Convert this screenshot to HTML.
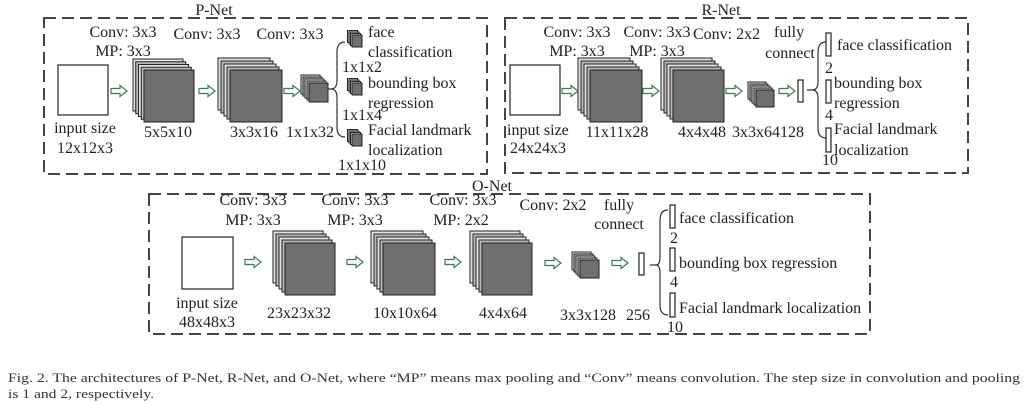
<!DOCTYPE html>
<html><head><meta charset="utf-8"><style>
html,body{margin:0;padding:0;background:#fff;}
svg{display:block;}
text{font-family:"Liberation Serif",serif;font-size:16px;fill:#222;}
.c{text-anchor:middle;}
.cap{font-size:13px;fill:#333;}
.bx{fill:none;stroke:#444;stroke-width:2;stroke-dasharray:12 6;}
.b1{fill:#e2e2e2;stroke:#222;stroke-width:1;}
.b2{fill:#b8b8b8;stroke:#222;stroke-width:1;}
.f{fill:#6f6f6f;stroke:#222;stroke-width:1;}
.w{fill:#fff;stroke:#222;stroke-width:1.2;}
.ar{fill:#fff;stroke:#3f7a50;stroke-width:1.2;}
.br{fill:none;stroke:#333;stroke-width:1.2;}
</style></head><body>
<svg width="1024" height="404" viewBox="0 0 1024 404" xmlns="http://www.w3.org/2000/svg">
<defs>
<path id="arr" d="M0 -2.5 h9 v-3 l7 5.5 l-7 5.5 v-3 h-9 z" class="ar"/>
</defs>
<rect class="bx" x="44" y="18" width="443" height="156"/>
<rect class="bx" x="505" y="18" width="463" height="155"/>
<rect class="bx" x="149" y="194" width="721" height="140"/>
<text class="c" x="214" y="15">P-Net</text>
<text class="c" x="721" y="15">R-Net</text>
<text class="c" x="492" y="191">O-Net</text>

<!-- P-Net -->
<rect class="w" x="58" y="65" width="50" height="50"/>
<text class="c" x="85" y="133">input size</text>
<text class="c" x="85" y="153">12x12x3</text>
<text class="c" x="123" y="37">Conv: 3x3</text>
<text class="c" x="123" y="56">MP: 3x3</text>
<g><rect class="b1" x="133" y="59" width="50" height="52"/><rect class="b2" x="135.75" y="61.75" width="50" height="52"/><rect class="b1" x="138.5" y="64.5" width="50" height="52"/><rect class="b2" x="141.25" y="67.25" width="50" height="52"/><rect class="f" x="144" y="70" width="50" height="52"/></g>
<text class="c" x="168" y="137">5x5x10</text>
<text class="c" x="207" y="39">Conv: 3x3</text>
<g><rect class="b1" x="218" y="58" width="52" height="52"/><rect class="b2" x="221" y="61" width="52" height="52"/><rect class="b1" x="224" y="64" width="52" height="52"/><rect class="b2" x="227" y="67" width="52" height="52"/><rect class="f" x="230" y="70" width="52" height="52"/></g>
<text class="c" x="254" y="137">3x3x16</text>
<text class="c" x="290" y="39">Conv: 3x3</text>
<g><rect class="b1" x="301" y="75" width="19" height="19"/><rect class="b2" x="303" y="77" width="19" height="19"/><rect class="b1" x="305" y="79" width="19" height="19"/><rect class="b2" x="307" y="81" width="19" height="19"/><rect class="f" x="309" y="83" width="19" height="19"/></g>
<text class="c" x="310" y="137">1x1x32</text>
<use href="#arr" x="111" y="91"/><use href="#arr" x="199" y="91"/><use href="#arr" x="284" y="91"/>
<path class="br" d="M328 89 H331 M345 42 Q337 42 337 52 V80 Q337 89 331 89 Q337 89 337 98 V128 Q337 137 345 137"/>
<g><rect class="b1" x="347.5" y="30.5" width="10" height="12"/><rect class="b2" x="349" y="32" width="10" height="12"/><rect class="b1" x="350.5" y="33.5" width="10" height="12"/><rect class="f" x="352" y="35" width="10" height="12"/></g>
<g><rect class="b1" x="347.5" y="78.5" width="10" height="12"/><rect class="b2" x="349" y="80" width="10" height="12"/><rect class="b1" x="350.5" y="81.5" width="10" height="12"/><rect class="f" x="352" y="83" width="10" height="12"/></g>
<g><rect class="b1" x="347.5" y="129.5" width="10" height="12"/><rect class="b2" x="349" y="131" width="10" height="12"/><rect class="b1" x="350.5" y="132.5" width="10" height="12"/><rect class="f" x="352" y="134" width="10" height="12"/></g>
<text x="368" y="37">face</text>
<text x="368" y="57">classification</text>
<text x="342" y="72">1x1x2</text>
<text x="368" y="88">bounding box</text>
<text x="368" y="108">regression</text>
<text x="342" y="120">1x1x4</text>
<text x="368" y="135">Facial landmark</text>
<text x="368" y="155">localization</text>
<text x="338" y="170">1x1x10</text>

<!-- R-Net -->
<rect class="w" x="510" y="65" width="50" height="50"/>
<text x="507" y="135">input size</text>
<text x="510" y="153">24x24x3</text>
<text class="c" x="577" y="37">Conv: 3x3</text>
<text class="c" x="577" y="56">MP: 3x3</text>
<g><rect class="b1" x="578" y="58" width="52" height="52"/><rect class="b2" x="581" y="61" width="52" height="52"/><rect class="b1" x="584" y="64" width="52" height="52"/><rect class="b2" x="587" y="67" width="52" height="52"/><rect class="f" x="590" y="70" width="52" height="52"/></g>
<text class="c" x="617" y="137">11x11x28</text>
<text class="c" x="657" y="37">Conv: 3x3</text>
<text class="c" x="657" y="56">MP: 3x3</text>
<g><rect class="b1" x="661" y="58" width="51" height="52"/><rect class="b2" x="664" y="61" width="51" height="52"/><rect class="b1" x="667" y="64" width="51" height="52"/><rect class="b2" x="670" y="67" width="51" height="52"/><rect class="f" x="673" y="70" width="51" height="52"/></g>
<text x="678" y="137">4x4x48</text>
<text x="732" y="137">3x3x64128</text>
<text x="693" y="39">Conv: 2x2</text>
<g><rect class="b1" x="748" y="82" width="18" height="17"/><rect class="b2" x="750" y="84" width="18" height="17"/><rect class="b1" x="752" y="86" width="18" height="17"/><rect class="b2" x="754" y="88" width="18" height="17"/><rect class="f" x="756" y="90" width="18" height="17"/></g>
<use href="#arr" x="562" y="91"/><use href="#arr" x="643" y="91"/><use href="#arr" x="726" y="91"/><use href="#arr" x="779" y="91"/>
<rect class="w" x="798" y="80" width="5" height="22"/>
<text class="c" x="789" y="37">fully</text>
<text class="c" x="790" y="58">connect</text>
<path class="br" d="M807 90 H812 M826 42 Q818 42 818 52 V82 Q818 90 812 90 Q818 90 818 98 V128 Q818 138 826 138"/>
<rect class="w" x="826" y="33" width="5" height="23"/>
<rect class="w" x="826" y="80" width="5" height="23"/>
<rect class="w" x="826" y="128" width="5" height="24"/>
<text x="837" y="50">face classification</text>
<text x="825" y="73">2</text>
<text x="834" y="88">bounding box</text>
<text x="834" y="108">regression</text>
<text x="825" y="120">4</text>
<text x="834" y="134">Facial landmark</text>
<text x="834" y="155">localization</text>
<text x="822" y="165">10</text>

<!-- O-Net -->
<rect class="w" x="182" y="237" width="51" height="52"/>
<text class="c" x="207" y="308">input size</text>
<text class="c" x="207" y="327">48x48x3</text>
<text class="c" x="253" y="205">Conv: 3x3</text>
<text class="c" x="253" y="225">MP: 3x3</text>
<g><rect class="b1" x="273" y="231" width="50" height="52"/><rect class="b2" x="276" y="234" width="50" height="52"/><rect class="b1" x="279" y="237" width="50" height="52"/><rect class="b2" x="282" y="240" width="50" height="52"/><rect class="f" x="285" y="243" width="50" height="52"/></g>
<text class="c" x="299" y="318">23x23x32</text>
<text class="c" x="355" y="205">Conv: 3x3</text>
<text class="c" x="355" y="225">MP: 3x3</text>
<g><rect class="b1" x="371" y="231" width="52" height="52"/><rect class="b2" x="374" y="234" width="52" height="52"/><rect class="b1" x="377" y="237" width="52" height="52"/><rect class="b2" x="380" y="240" width="52" height="52"/><rect class="f" x="383" y="243" width="52" height="52"/></g>
<text class="c" x="405" y="318">10x10x64</text>
<text class="c" x="463" y="205">Conv: 3x3</text>
<text class="c" x="461" y="225">MP: 2x2</text>
<g><rect class="b1" x="470" y="231" width="50" height="52"/><rect class="b2" x="473" y="234" width="50" height="52"/><rect class="b1" x="476" y="237" width="50" height="52"/><rect class="b2" x="479" y="240" width="50" height="52"/><rect class="f" x="482" y="243" width="50" height="52"/></g>
<text class="c" x="503" y="318">4x4x64</text>
<text class="c" x="553" y="210">Conv: 2x2</text>
<g><rect class="b1" x="572" y="252" width="19" height="18"/><rect class="b2" x="574" y="254" width="19" height="18"/><rect class="b1" x="576" y="256" width="19" height="18"/><rect class="b2" x="578" y="258" width="19" height="18"/><rect class="f" x="580" y="260" width="19" height="18"/></g>
<text class="c" x="588" y="320">3x3x128</text>
<text class="c" x="638" y="320">256</text>
<use href="#arr" x="245" y="262"/><use href="#arr" x="347" y="262"/><use href="#arr" x="445" y="262"/><use href="#arr" x="545" y="263"/><use href="#arr" x="612" y="263"/>
<rect class="w" x="639" y="253" width="5" height="22"/>
<text class="c" x="619" y="210">fully</text>
<text class="c" x="619" y="229">connect</text>
<path class="br" d="M650 265 H656 M668 210 Q660 210 660 220 V257 Q660 265 656 265 Q660 265 660 273 V305 Q660 315 668 315"/>
<rect class="w" x="670" y="205" width="5" height="23"/>
<rect class="w" x="670" y="248" width="5" height="23"/>
<rect class="w" x="670" y="293" width="5" height="24"/>
<text x="679" y="223">face classification</text>
<text x="670" y="243">2</text>
<text x="679" y="268">bounding box regression</text>
<text x="670" y="287">4</text>
<text x="679" y="313">Facial landmark localization</text>
<text x="667" y="332">10</text>

<text class="cap" x="8" y="382" textLength="1012" lengthAdjust="spacingAndGlyphs">Fig. 2.  The architectures of P-Net, R-Net, and O-Net, where “MP” means max pooling and “Conv” means convolution. The step size in convolution and pooling</text>
<text class="cap" x="8" y="398" textLength="146" lengthAdjust="spacingAndGlyphs">is 1 and 2, respectively.</text>
</svg>
</body></html>
